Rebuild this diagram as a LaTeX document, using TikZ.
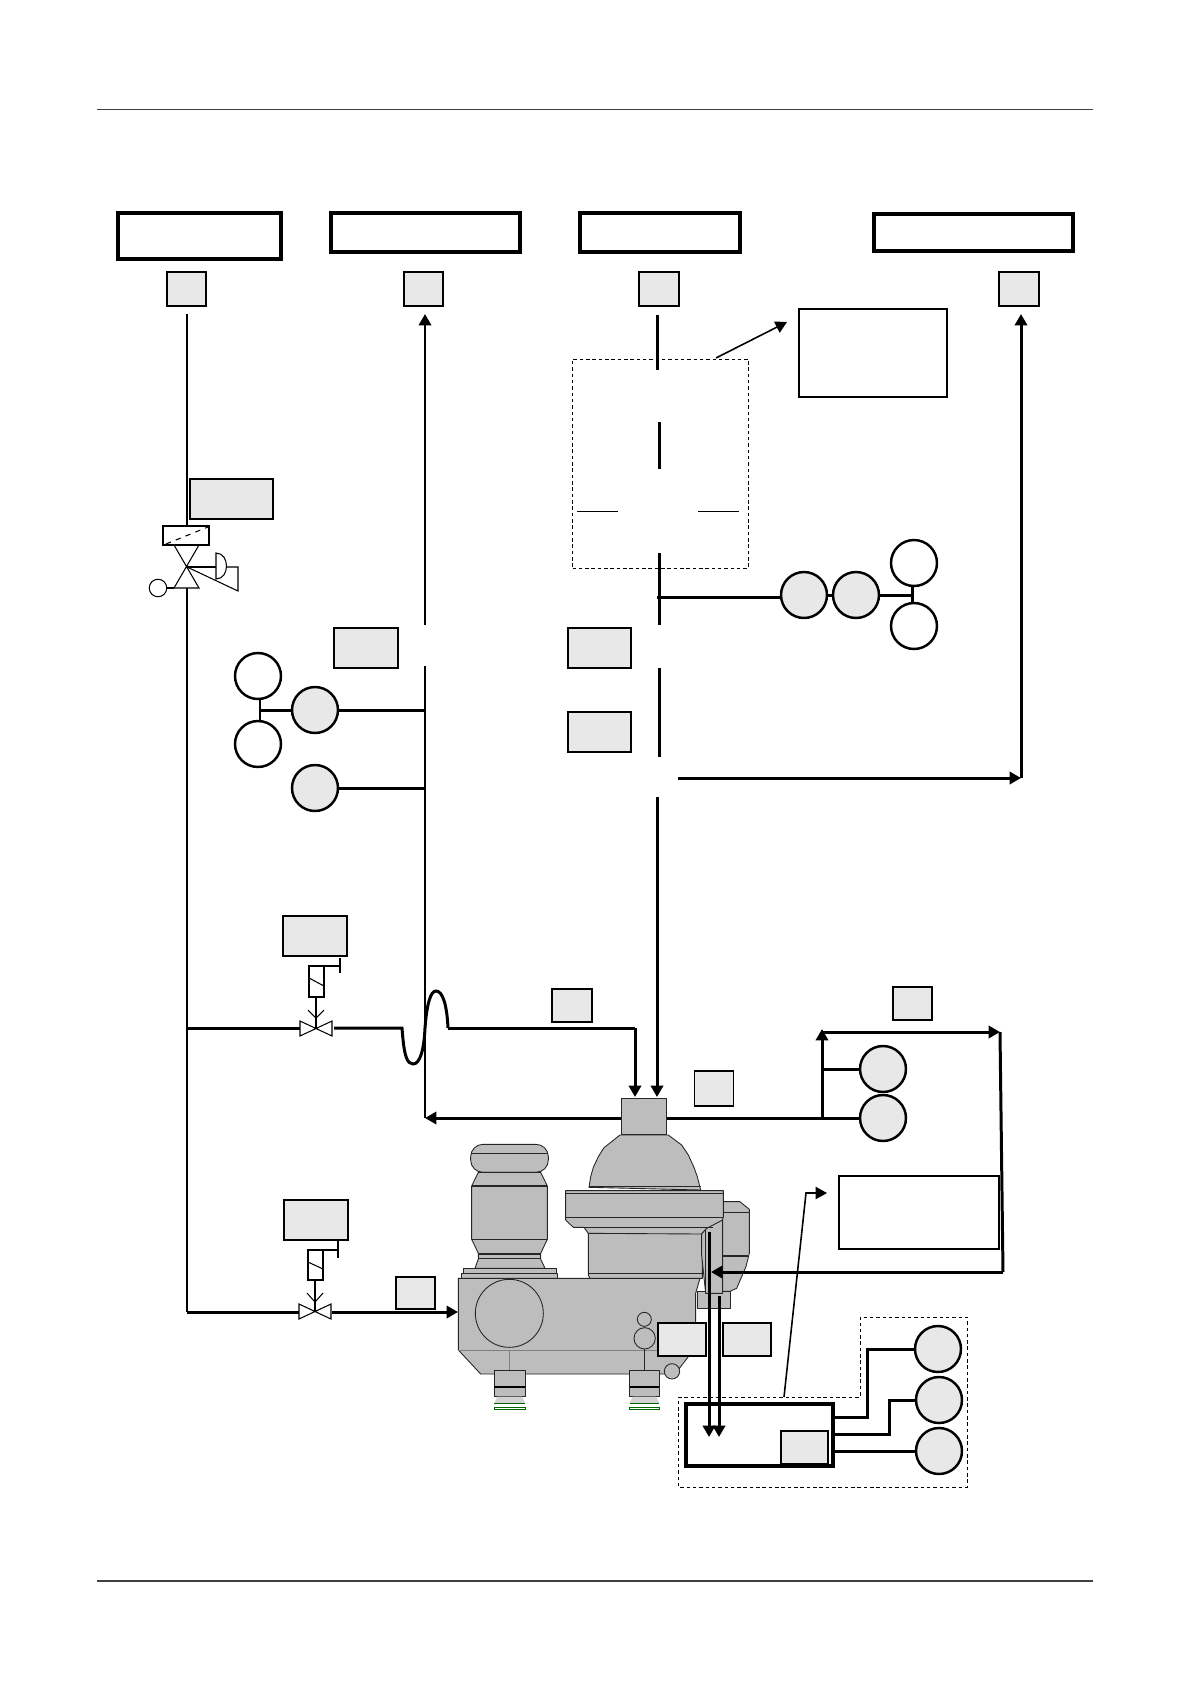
\documentclass[tikz,border=0pt]{standalone}
\usepackage{amsmath}
\usepackage{tikz}
\usetikzlibrary{calc, arrows.meta}

\definecolor{tagfill}{gray}{0.91}
\definecolor{sepfill}{gray}{0.74}

\tikzset{
  wh/.style 2 args={minimum width=#1*0.02cm, minimum height=#2*0.02cm},
  titlebox/.style={draw, line width=2.1pt, inner sep=0pt, outer sep=0pt},
  notebox/.style={draw, line width=0.9pt, inner sep=0pt, outer sep=0pt},
  tagbox/.style={draw, fill=tagfill, line width=1.1pt, inner sep=0pt, outer sep=0pt},
  sensor/.style={circle, draw, fill=tagfill, line width=1.4pt, minimum size=0.92cm, inner sep=0pt, outer sep=0pt},
  switchb/.style={sensor, fill=white},
  dashbox/.style={draw, line width=0.5pt, dash pattern=on 2pt off 1.6pt, inner sep=0pt, outer sep=0pt},
  pipe/.style={line width=1.7pt},
  pipeto/.style={line width=1.7pt, -{Triangle[length=6.5pt,width=7pt]}},
  leader/.style={line width=0.9pt, -{Triangle[length=6.5pt,width=7pt]}},
  thinline/.style={line width=0.6pt},
  sepbody/.style={fill=sepfill, draw=black!85, line width=0.5pt, line join=round},
  sepline/.style={draw=black!85, line width=0.6pt},
  seplight/.style={draw=black!50, line width=0.5pt}
}

\begin{document}
\begin{tikzpicture}[x=0.02cm, y=-0.02cm]
          \fill[white] (0,0) rectangle (1191,1684);
          \useasboundingbox (0,0) rectangle (1191,1684);
          \draw[black!75, line width=0.7pt] (97,109.5) -- (1093,109.5);
          \draw[black!75, line width=0.7pt] (97,1581) -- (1093,1581);

          \begin{scope}[shift={(440,1080)}, x=0.00667cm, y=-0.00667cm]
            \path[sepbody, rounded corners=7pt] (92,277) -- (92,193) -- (325,193) -- (325,277) -- cycle;
            \path[sepbody] (115,277) -- (95,318) -- (95,478) -- (115,520) -- (115,537) -- (105,565)
              -- (315,565) -- (302,537) -- (302,520) -- (322,478) -- (322,318) -- (302,277) -- cycle;
            \path[sepbody] (70,565) rectangle (350,580);
            \path[sepbody] (64,580) rectangle (352,595);
            \draw[sepline] (92,220) -- (325,220);
            \draw[sepline] (95,318) -- (322,318);
            \draw[sepline] (95,478) -- (322,478);
            \draw[sepline] (115,522) -- (302,522);
            \draw[sepline] (115,536) -- (302,536);
            \path[sepbody] (850,365) -- (900,365) -- (928,388) -- (928,520) -- (918,560) -- (890,625)
              -- (870,634) -- (800,634) -- (800,365) -- cycle;
            \draw[sepline] (850,397) -- (928,397);
            \draw[sepline] (848,528) -- (925,528);
            \path[sepbody] (55,595) -- (780,595) -- (767,640) -- (767,730) -- (745,830) -- (716,868)
              -- (675,882) -- (122,882) -- (55,810) -- cycle;
            \path[sepbody] (772,633) rectangle (870,685);
            \path[sepbody] (447,322) -- (452,290) -- (460,262) -- (475,230) -- (492,203) -- (540,165)
              -- (685,165) -- (725,195) -- (745,225) -- (762,262) -- (772,290) -- (782,330) -- cycle;
            \path[sepbody] (545,55) rectangle (680,163);
            \path[sepbody] (445,455) -- (445,585) -- (450,595) -- (787,595) -- (787,455) -- cycle;
            \path[sepbody] (377,332) -- (850,332) -- (850,412) -- (845,425) -- (820,442) -- (800,445)
              -- (785,462) -- (445,460) -- (432,442) -- (400,442) -- (377,420) -- cycle;
            \path[sepbody] (785,462) -- (800,445) -- (848,420) -- (848,640) -- (797,640) -- (785,525) -- cycle;
            \draw[sepline] (447,320) -- (782,320);
            \draw[sepline] (377,340) -- (850,340);
            \draw[sepline] (377,412) -- (850,412);
            \draw[sepline] (400,442) -- (820,442);
            \draw[sepline] (445,580) -- (787,580);
            \draw[sepline] (797,450) -- (797,640);
            \path[sepbody] (208,700) circle (102);
            \draw[seplight] (55,810) -- (650,810);
            \path[sepbody] (613,718) circle (21);
            \path[sepbody] (614,775) circle (32);
            \path[sepbody] (696,874) circle (23);
            \draw[seplight] (208,810) -- (208,872);
            \draw[sepline] (614,808) -- (614,872);
            \path[sepbody] (163,872) rectangle (255,948);
            \path[sepbody] (569,872) rectangle (658,948);
            \draw[line width=1.2pt] (163,920) -- (255,920);
            \draw[line width=1.2pt] (569,920) -- (658,920);
            \fill[sepfill!70!white] (172,950) -- (246,950) -- (255,970) -- (163,970) -- cycle;
            \fill[sepfill!70!white] (578,950) -- (649,950) -- (658,970) -- (569,970) -- cycle;
            \draw[green!40!black, line width=0.5pt] (163,971) -- (255,971);
            \draw[green!40!black, line width=0.5pt] (163,983) rectangle (255,988);
            \draw[green!40!black, line width=0.5pt] (569,971) -- (658,971);
            \draw[green!40!black, line width=0.5pt] (569,983) rectangle (658,988);
          \end{scope}

          \node[titlebox, wh={163}{46}] (title1) at (199.5,236) {};
          \node[titlebox, wh={189}{39}] (title2) at (425.5,232.5) {};
          \node[titlebox, wh={160}{39}] (title3) at (660,232.5) {};
          \node[titlebox, wh={199}{37}] (title4) at (973.5,232.5) {};

          \node[tagbox, wh={39}{34}] (tag1) at (186.5,289) {};
          \node[tagbox, wh={39}{34}] (tag2) at (423.5,289) {};
          \node[tagbox, wh={40}{34}] (tag3) at (659,289) {};
          \node[tagbox, wh={40}{34}] (tag4) at (1019,289) {};
          \node[tagbox, wh={83}{40}] (tagmix) at (231.5,499) {};
          \node[tagbox, wh={64}{40}] (tagfeed) at (366,648) {};
          \node[tagbox, wh={63}{40}] (tagpress) at (599.5,648) {};
          \node[tagbox, wh={63}{40}] (tagtemp) at (599.5,732) {};
          \node[tagbox, wh={64}{40}] (tagoil) at (315,936) {};
          \node[tagbox, wh={64}{40}] (tagwater) at (316,1220) {};
          \node[tagbox, wh={40}{33}] (tagin) at (572,1005.5) {};
          \node[tagbox, wh={39}{32}] (tagdrain) at (415.5,1293) {};
          \node[tagbox, wh={39}{35}] (tagout) at (714,1088.5) {};
          \node[tagbox, wh={39}{33}] (tagsludge) at (912.5,1003.5) {};
          \node[tagbox, wh={48}{33}] (tagleft) at (682,1339.5) {};
          \node[tagbox, wh={48}{33}] (tagright) at (747,1339.5) {};

          \node[notebox, wh={148}{88}] (noteheat) at (873,353) {};
          \node[notebox, wh={160}{73}] (notetank) at (919,1212.5) {};
          \node[dashbox, wh={176}{209}] (dashheat) at (660.5,463.5) {};

          \node[sensor] (gaugeA) at (804,595) {};
          \node[sensor] (gaugeB) at (856,595) {};
          \node[switchb] (gaugeC) at (914,563) {};
          \node[switchb] (gaugeD) at (914,626) {};
          \node[switchb] (gaugeE) at (258,676) {};
          \node[switchb] (gaugeF) at (258,744) {};
          \node[sensor] (gaugeG) at (315,710) {};
          \node[sensor] (gaugeH) at (315,788) {};
          \node[sensor] (gaugeJ) at (883,1069) {};
          \node[sensor] (gaugeK) at (883,1118) {};
          \node[sensor] (gaugeL) at (938,1349) {};
          \node[sensor] (gaugeM) at (939,1400) {};
          \node[sensor] (gaugeN) at (939,1451) {};

          \coordinate (oilA) at (187,314);
          \coordinate (oilB) at (187,527);
          \coordinate (oilC) at (187,588);
          \coordinate (oilD) at (187,1028);
          \coordinate (oilE) at (187,1312);
          \draw[pipe] (oilA) -- (oilB);
          \draw[pipe] (oilC) -- (oilD) -- (oilE);

          \coordinate (backA) at (425,1118);
          \coordinate (backB) at (425,666);
          \coordinate (backC) at (425,625);
          \coordinate (backD) at (425,314);
          \coordinate (backE) at (425,710);
          \coordinate (backF) at (425,788);
          \coordinate (neckL) at (621,1118);
          \coordinate (neckR) at (667,1118);
          \draw[pipe] (backA) -- (backB);
          \draw[pipeto] (backC) -- (backD);
          \draw[pipeto] (neckL) -- (backA);
          \draw[pipe] (gaugeG) -- (backE);
          \draw[pipe] (gaugeH) -- (backF);
          \coordinate (teeA) at (260,699);
          \coordinate (teeB) at (260,721);
          \coordinate (teeC) at (260,710);
          \draw[pipe] (teeA) -- (teeB);
          \draw[pipe] (teeC) -- (gaugeG);

          \coordinate (heatA) at (657,315);
          \coordinate (heatB) at (657,370);
          \coordinate (heatC) at (659,422);
          \coordinate (heatD) at (659,469);
          \coordinate (heatE) at (659,553);
          \coordinate (heatF) at (659,625);
          \coordinate (heatG) at (659,668);
          \coordinate (heatH) at (659,757);
          \coordinate (heatJ) at (657,797);
          \coordinate (heatK) at (657,1097);
          \coordinate (heatL) at (657,597);
          \coordinate (sideA) at (678,778);
          \coordinate (sideB) at (1021,778);
          \coordinate (sideC) at (1021,314);
          \draw[pipe] (heatA) -- (heatB);
          \draw[pipe] (heatC) -- (heatD);
          \draw[pipe] (heatE) -- (heatF);
          \draw[pipe] (heatG) -- (heatH);
          \draw[pipeto] (heatJ) -- (heatK);
          \draw[pipe] (heatL) -- (heatL -| gaugeA.west);
          \draw[pipe] (gaugeA) -- (gaugeB);
          \draw[pipeto] (sideA) -- (sideB);
          \draw[pipeto] (sideB) -- (sideC);

          \coordinate (teeD) at (912,586);
          \coordinate (teeE) at (912,603);
          \coordinate (teeF) at (912,595);
          \draw[pipe] (teeD) -- (teeE);
          \draw[pipe] (gaugeB) -- (teeF);

          \coordinate (noteA) at (716,358);
          \coordinate (noteB) at (787,322);
          \draw[leader] (noteA) -- (noteB);
          \coordinate (heatM) at (577,511);
          \coordinate (heatN) at (618,511);
          \coordinate (heatP) at (698,511);
          \coordinate (heatQ) at (739,511);
          \draw[line width=0.45pt] (heatM) -- (heatN);
          \draw[line width=0.45pt] (heatP) -- (heatQ);

          \coordinate (mixA) at (300,1028);
          \coordinate (mixB) at (334,1028);
          \coordinate (mixC) at (402,1028);
          \coordinate (mixD) at (448,1028);
          \coordinate (mixE) at (635,1028);
          \coordinate (mixF) at (635,1097);
          \draw[pipe] (oilD) -- (mixA);
          \draw[pipe] (mixB) -- (mixC)
            .. controls (404,1056) and (407,1064) .. (413,1064)
            .. controls (420,1064) and (424,1050) .. (425,1028)
            .. controls (427,1002) and (431,991) .. (436,991)
            .. controls (443,991) and (447,1006) .. (448,1028);
          \draw[pipe] (mixD) -- (mixE);
          \draw[pipeto] (mixE) -- (mixF);

          \coordinate (waterA) at (299,1312);
          \coordinate (waterB) at (332,1312);
          \coordinate (waterC) at (458,1312);
          \draw[pipe] (oilE) -- (waterA);
          \draw[pipeto] (waterB) -- (waterC);

          \coordinate (riseA) at (822,1118);
          \coordinate (riseB) at (822,1029);
          \coordinate (riseC) at (822,1032);
          \coordinate (riseD) at (1000,1032);
          \coordinate (riseE) at (1003,1272);
          \coordinate (riseF) at (711,1272);
          \coordinate (riseG) at (822,1069);
          \draw[pipe] (neckR) -- (gaugeK);
          \draw[pipeto] (riseA) -- (riseB);
          \draw[pipeto] (riseC) -- (riseD);
          \draw[pipe] (riseG) -- (gaugeJ);
          \draw[pipe] (riseD) -- (riseE);
          \draw[pipeto] (riseE) -- (riseF);

          \node[titlebox, wh={147}{62}] (tank) at (759.5,1435) {};
          \node[tagbox, wh={47}{33}] (tagtank) at (804.5,1447.5) {};
          \coordinate (dashA) at (678,1397);
          \coordinate (dashB) at (860,1397);
          \coordinate (dashC) at (860,1317);
          \coordinate (dashD) at (967,1317);
          \coordinate (dashE) at (967,1487);
          \coordinate (dashF) at (678,1487);
          \draw[line width=0.5pt, dash pattern=on 2pt off 1.6pt] (dashA) -- (dashB) -- (dashC) -- (dashD) -- (dashE) -- (dashF) -- cycle;

          \coordinate (drainA) at (709,1232);
          \coordinate (drainB) at (709,1437);
          \coordinate (drainC) at (719,1296);
          \coordinate (drainD) at (719,1437);
          \draw[pipeto] (drainA) -- (drainB);
          \draw[pipeto] (drainC) -- (drainD);

          \coordinate (wireA) at (833,1417);
          \coordinate (wireB) at (867,1417);
          \coordinate (wireC) at (867,1349);
          \coordinate (wireD) at (833,1434);
          \coordinate (wireE) at (889,1434);
          \coordinate (wireF) at (889,1400);
          \coordinate (wireG) at (833,1451);
          \draw[pipe] (wireA) -- (wireB) -- (wireC) -- (gaugeL);
          \draw[pipe] (wireD) -- (wireE) -- (wireF) -- (gaugeM);
          \draw[pipe] (wireG) -- (gaugeN);

          \coordinate (tankA) at (784,1397);
          \coordinate (tankB) at (806,1193);
          \coordinate (tankC) at (827,1193);
          \draw[leader] (tankA) -- (tankB) -- (tankC);

          \draw[thinline] (163,526) rectangle (209,545);
          \draw[thinline, dashed] (166,544) -- (208,527);
          \draw[thinline] (174,545) -- (199,545) -- (174,588) -- (199,588) -- cycle;
          \draw[thinline] (187,567) -- (216,567);
          \draw[thinline] (216,553) .. controls (230,553) and (230,579) .. (216,579) -- cycle;
          \draw[thinline] (227,567) -- (238,567) -- (238,591) -- (187,567);
          \node[circle, draw, line width=0.6pt, minimum size=0.35cm, inner sep=0pt, outer sep=0pt] (float) at (158,588) {};
          \coordinate (floatA) at (174,588);
          \draw[thinline] (float) -- (floatA);

          \draw[thinline] (309,966) rectangle (324,997);
          \draw[thinline] (309,978) -- (324,986);
          \draw[thinline] (324,966) -- (340,966);
          \draw[thinline] (340,958) -- (340,973);
          \draw[thinline] (316,997) -- (316,1028);
          \draw[thinline] (308,1010) -- (316,1018) -- (324,1010);
          \draw[thinline] (300,1021) -- (332,1036) -- (332,1021) -- (300,1036) -- cycle;

          \draw[thinline] (308,1250) rectangle (323,1280);
          \draw[thinline] (308,1262) -- (323,1269);
          \draw[thinline] (323,1250) -- (338,1250);
          \draw[thinline] (338,1240) -- (338,1258);
          \draw[thinline] (315,1280) -- (315,1312);
          \draw[thinline] (307,1293) -- (315,1302) -- (323,1293);
          \draw[thinline] (299,1304) -- (331,1319) -- (331,1304) -- (299,1319) -- cycle;
        \end{tikzpicture}
\end{document}
